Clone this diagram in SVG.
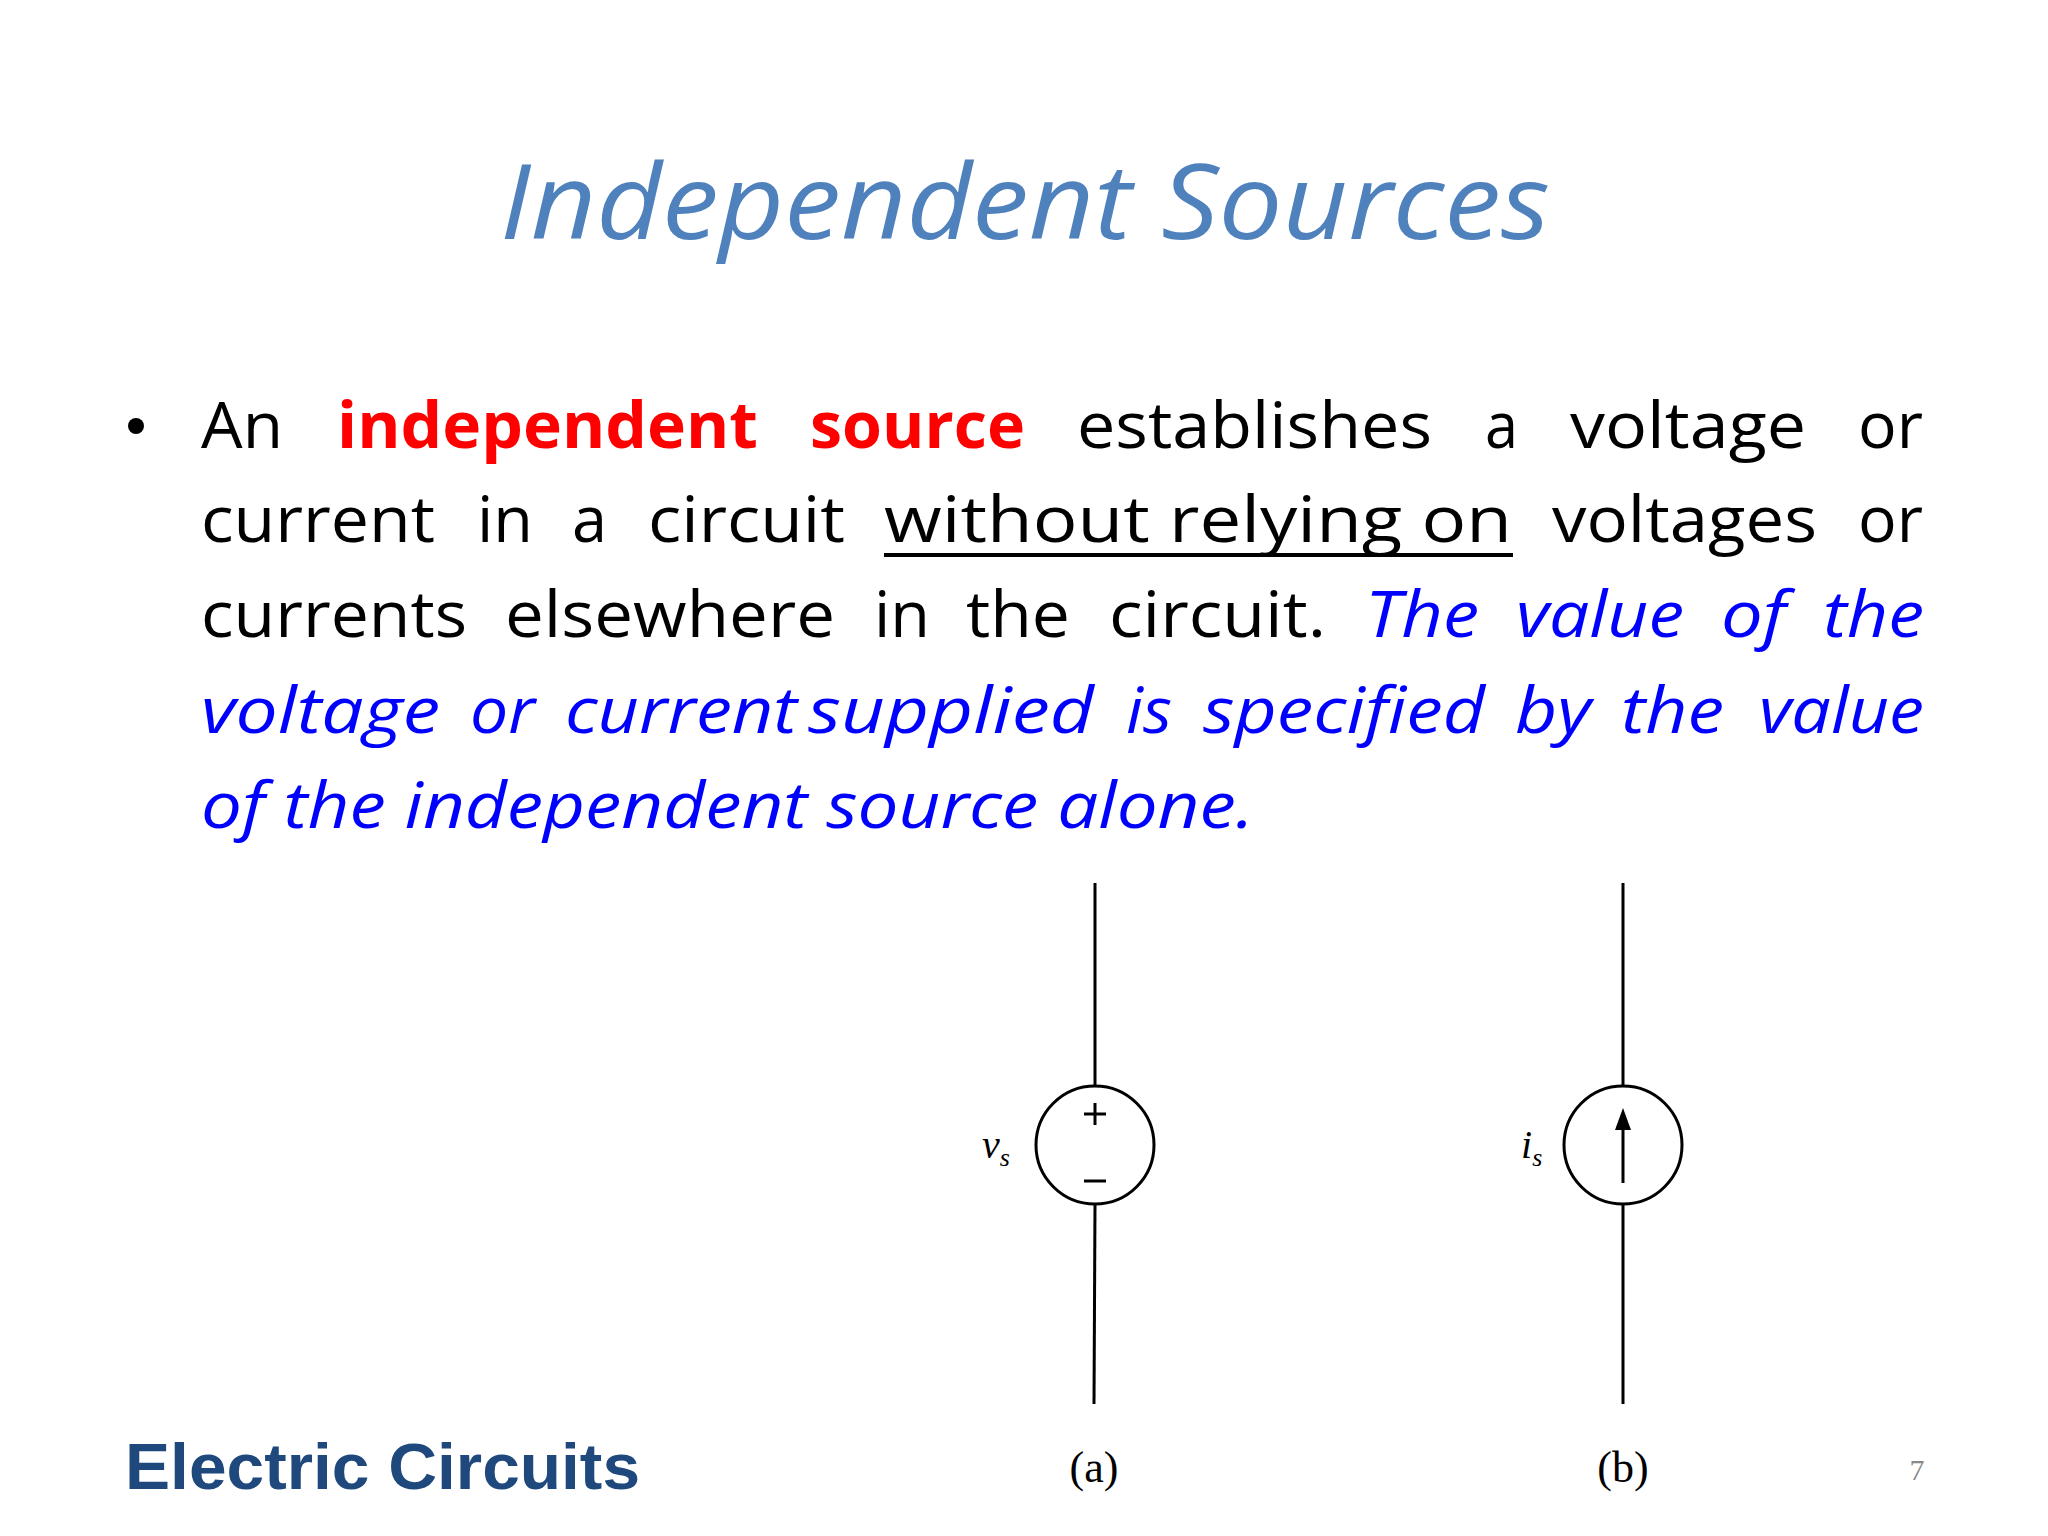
<svg xmlns="http://www.w3.org/2000/svg" width="2048" height="1536" viewBox="0 0 2048 1536">
<style>
.b{font-family:"Open Sans","Liberation Sans",sans-serif;font-size:64px;fill:#000}
.r{fill:#ff0000;font-weight:bold}
.i{fill:#0000ff;font-style:italic}
.w{stroke:#000;stroke-width:3;fill:none}
.s{font-family:"Liberation Serif",serif;fill:#000}
</style>
<rect width="2048" height="1536" fill="#fff"/>
<text x="1025" y="239" text-anchor="middle" font-family="Open Sans, Liberation Sans, sans-serif" font-style="italic" font-size="104" fill="#4f81bd" textLength="1050" lengthAdjust="spacingAndGlyphs">Independent Sources</text>
<g id="body" class="b" lengthAdjust="spacingAndGlyphs">
<circle cx="136" cy="426" r="8" fill="#000"/>
<text y="448"><tspan x="201" textLength="82" lengthAdjust="spacingAndGlyphs">An</tspan></text>
<text y="448" class="r"><tspan x="337" textLength="421" lengthAdjust="spacingAndGlyphs">independent</tspan><tspan x="810" textLength="215" lengthAdjust="spacingAndGlyphs">source</tspan></text>
<text y="448"><tspan x="1077" textLength="355" lengthAdjust="spacingAndGlyphs">establishes</tspan><tspan x="1485" textLength="33" lengthAdjust="spacingAndGlyphs">a</tspan><tspan x="1570" textLength="236" lengthAdjust="spacingAndGlyphs">voltage</tspan><tspan x="1858" textLength="65" lengthAdjust="spacingAndGlyphs">or</tspan></text>
<text y="542"><tspan x="201" textLength="234" lengthAdjust="spacingAndGlyphs">current</tspan><tspan x="477" textLength="56" lengthAdjust="spacingAndGlyphs">in</tspan><tspan x="572" textLength="35" lengthAdjust="spacingAndGlyphs">a</tspan><tspan x="648" textLength="197" lengthAdjust="spacingAndGlyphs">circuit</tspan><tspan x="884" textLength="628" lengthAdjust="spacingAndGlyphs">without relying on</tspan><tspan x="1552" textLength="265" lengthAdjust="spacingAndGlyphs">voltages</tspan><tspan x="1858" textLength="65" lengthAdjust="spacingAndGlyphs">or</tspan></text>
<line x1="884" y1="555" x2="1513" y2="555" stroke="#000" stroke-width="4"/>
<text y="637"><tspan x="201" textLength="266" lengthAdjust="spacingAndGlyphs">currents</tspan><tspan x="505" textLength="330" lengthAdjust="spacingAndGlyphs">elsewhere</tspan><tspan x="874" textLength="56" lengthAdjust="spacingAndGlyphs">in</tspan><tspan x="966" textLength="104" lengthAdjust="spacingAndGlyphs">the</tspan><tspan x="1109" textLength="217" lengthAdjust="spacingAndGlyphs">circuit.</tspan></text>
<text y="637" class="i"><tspan x="1365" textLength="114" lengthAdjust="spacingAndGlyphs">The</tspan><tspan x="1516" textLength="168" lengthAdjust="spacingAndGlyphs">value</tspan><tspan x="1721" textLength="65" lengthAdjust="spacingAndGlyphs">of</tspan><tspan x="1823" textLength="101" lengthAdjust="spacingAndGlyphs">the</tspan></text>
<text y="733" class="i"><tspan x="201" textLength="239" lengthAdjust="spacingAndGlyphs">voltage</tspan><tspan x="470" textLength="65" lengthAdjust="spacingAndGlyphs">or</tspan><tspan x="565" textLength="232" lengthAdjust="spacingAndGlyphs">current</tspan><tspan x="808" textLength="286" lengthAdjust="spacingAndGlyphs">supplied</tspan><tspan x="1126" textLength="46" lengthAdjust="spacingAndGlyphs">is</tspan><tspan x="1203" textLength="282" lengthAdjust="spacingAndGlyphs">specified</tspan><tspan x="1515" textLength="76" lengthAdjust="spacingAndGlyphs">by</tspan><tspan x="1621" textLength="103" lengthAdjust="spacingAndGlyphs">the</tspan><tspan x="1759" textLength="165" lengthAdjust="spacingAndGlyphs">value</tspan></text>
<text y="828" class="i"><tspan x="201" textLength="1053" lengthAdjust="spacingAndGlyphs">of the independent source alone.</tspan></text>
</g>
<g id="source-a">
<line class="w" x1="1095" y1="883" x2="1095" y2="1086"/>
<line class="w" x1="1095" y1="1204" x2="1094" y2="1404"/>
<circle class="w" cx="1095" cy="1145" r="59"/>
<line class="w" x1="1084" y1="1114" x2="1106" y2="1114"/>
<line class="w" x1="1095" y1="1103" x2="1095" y2="1125"/>
<line class="w" x1="1084" y1="1181" x2="1106" y2="1181"/>
<text class="s" x="982" y="1158" font-size="40" font-style="italic">v<tspan font-size="26" dy="8">s</tspan></text>
<text class="s" x="1094" y="1482" font-size="44" text-anchor="middle">(a)</text>
</g>
<g id="source-b">
<line class="w" x1="1623" y1="883" x2="1623" y2="1086"/>
<line class="w" x1="1623" y1="1204" x2="1623" y2="1404"/>
<circle class="w" cx="1623" cy="1145" r="59"/>
<line class="w" x1="1623" y1="1183" x2="1623" y2="1125"/>
<polygon points="1623,1108 1615,1130 1631,1130" fill="#000"/>
<text class="s" x="1521" y="1158" font-size="40" font-style="italic">i<tspan font-size="26" dy="8">s</tspan></text>
<text class="s" x="1623" y="1482" font-size="44" text-anchor="middle">(b)</text>
</g>
<text x="125" y="1489" font-family="Liberation Sans, sans-serif" font-weight="bold" font-size="64" fill="#1f497d" textLength="515" lengthAdjust="spacingAndGlyphs">Electric Circuits</text>
<text x="1917" y="1480" font-family="Liberation Serif, serif" font-size="30" fill="#888" text-anchor="middle">7</text>
</svg>
